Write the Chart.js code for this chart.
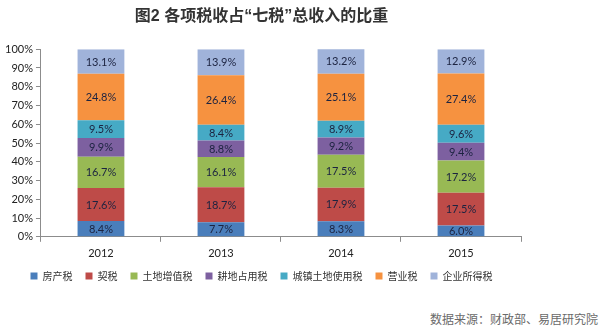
<!DOCTYPE html>
<html>
<head>
<meta charset="utf-8">
<script src="https://cdn.jsdelivr.net/npm/chart.js@4/dist/chart.umd.min.js"></script>
<style>
  html, body { margin: 0; padding: 0; background: #fff; }
  #wrap { position: relative; width: 601px; height: 333px; }
  #box { position: absolute; left: 0; top: 0; width: 530px; height: 302px; }
  #source {
    position: absolute; right: 3px; top: 310px;
    font: 12px "Noto Sans CJK SC", sans-serif; color: #6a6a6a;
  }
</style>
</head>
<body>
<div id="wrap">
  <div id="box"><canvas id="c"></canvas></div>
  <div id="source">数据来源：财政部、易居研究院</div>
</div>
<script>
// Years and each tax's share (%) of the seven-tax total
const years = ['2012', '2013', '2014', '2015'];
const seriesNames = ['房产税', '契税', '土地增值税', '耕地占用税', '城镇土地使用税', '营业税', '企业所得税'];
const fangChan   = [8.4, 7.7, 8.3, 6.0];
const qiShui     = [17.6, 18.7, 17.9, 17.5];
const tuDiZengZhi = [16.7, 16.1, 17.5, 17.2];
const gengDi     = [9.9, 8.8, 9.2, 9.4];
const chengZhen  = [9.5, 8.4, 8.9, 9.6];
const yingYe     = [24.8, 26.4, 25.1, 27.4];
const qiYe       = [13.1, 13.9, 13.2, 12.9];
const yTicks = [0, 10, 20, 30, 40, 50, 60, 70, 80, 90, 100];

const seriesValues = [fangChan, qiShui, tuDiZengZhi, gengDi, chengZhen, yingYe, qiYe];
const colors = ['#4a7ebb', '#be4b48', '#98b954', '#7d60a0', '#46aac5', '#f69240', '#a0b3da'];

const numFont = 'Lato, "Liberation Sans", sans-serif';
const cjkFont = '"Noto Sans CJK SC", sans-serif';

// Value labels centred in each stacked segment
const segmentLabels = {
  id: 'segmentLabels',
  afterDatasetsDraw(chart) {
    const ctx = chart.ctx;
    ctx.save();
    ctx.font = '11px ' + numFont;
    ctx.fillStyle = '#1c2340';
    ctx.textAlign = 'center';
    ctx.textBaseline = 'middle';
    chart.data.datasets.forEach((ds, i) => {
      chart.getDatasetMeta(i).data.forEach((bar, j) => {
        const p = bar.getProps(['x', 'y', 'base'], true);
        ctx.fillText(ds.data[j].toFixed(1) + '%', p.x, (p.y + p.base) / 2 + 0.5);
      });
    });
    ctx.restore();
  }
};

// Pull the legend row a little closer to the category axis
const legendNudge = {
  id: 'legendNudge',
  afterLayout(chart) {
    if (chart.legend) {
      chart.legend.top -= 7;
      chart.legend.bottom -= 7;
    }
  }
};

new Chart(document.getElementById('c'), {
  type: 'bar',
  data: {
    labels: years,
    datasets: seriesNames.map((name, i) => ({
      label: name,
      data: seriesValues[i],
      backgroundColor: colors[i],
      borderWidth: 0,
      categoryPercentage: 1,
      barPercentage: 0.39
    }))
  },
  options: {
    responsive: true,
    maintainAspectRatio: false,
    animation: false,
    layout: { padding: { left: 2, right: 9, bottom: 4 } },
    plugins: {
      title: {
        display: true,
        text: '图2 各项税收占“七税”总收入的比重',
        color: '#333',
        font: { family: '"Liberation Sans", "Noto Sans CJK SC", sans-serif', size: 16, weight: 'bold' },
        padding: { top: 7, bottom: 23 }
      },
      legend: {
        position: 'bottom',
        labels: {
          boxWidth: 7, boxHeight: 7,
          padding: 13,
          color: '#333',
          font: { family: cjkFont, size: 10 }
        }
      },
      tooltip: { enabled: false }
    },
    scales: {
      x: {
        stacked: true,
        grid: { drawOnChartArea: false, drawTicks: true, tickLength: 5, color: '#8c8c8c', offset: true },
        border: { display: true, color: '#8c8c8c' },
        ticks: { color: '#222', font: { family: numFont, size: 11 }, padding: 5 }
      },
      y: {
        stacked: true,
        min: 0, max: 100,
        afterBuildTicks(scale) { scale.ticks = yTicks.map(v => ({ value: v })); },
        grid: { drawOnChartArea: false, drawTicks: true, tickLength: 5, color: '#8c8c8c' },
        border: { display: true, color: '#8c8c8c' },
        ticks: { color: '#222', font: { family: numFont, size: 11 }, padding: 3, callback: v => v + '%' }
      }
    }
  },
  plugins: [segmentLabels, legendNudge]
});
</script>
</body>
</html>
